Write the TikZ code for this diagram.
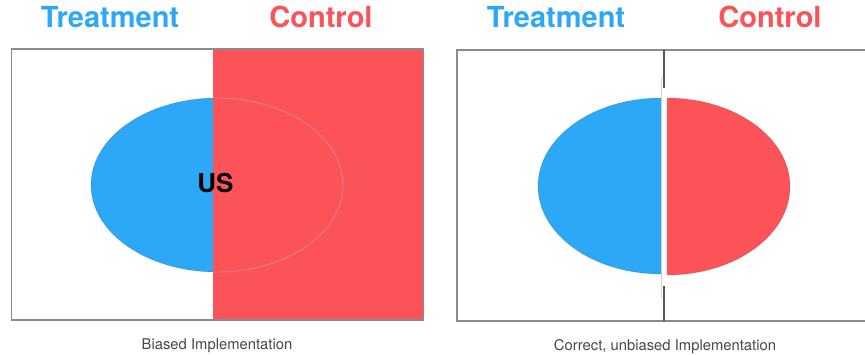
\documentclass[tikz,border=0pt]{standalone}
\usepackage{fontspec}
\setmainfont{TeX Gyre Heros}
\definecolor{tblue}{RGB}{44,168,246}
\definecolor{cred}{RGB}{252,83,89}
\definecolor{framegray}{RGB}{138,138,143}
\definecolor{divgray}{RGB}{85,85,90}
\begin{document}
\begin{tikzpicture}[x=1pt,y=-1pt,
  title/.style={font=\fontsize{29}{30}\selectfont\bfseries, inner sep=0pt, anchor=base},
  caption/.style={font=\fontsize{14.8}{16}\selectfont, text=black!72, inner sep=0pt, anchor=base},
  panel/.style={draw=framegray, line width=1.4pt},
  rim/.style={draw=black, draw opacity=0.14, line width=0.7pt}]
\clip (0,0) rectangle (865,354);
\fill[white] (0,0) rectangle (865,354);

% ---------- left panel: biased implementation ----------
\fill[tblue] (217,185) ellipse [x radius=126, y radius=87];
\draw[rim] (217,185) ellipse [x radius=126, y radius=87];
\fill[cred] (213,49) rectangle (423.5,320);
\begin{scope}
  \clip (213,0) rectangle (430,354);
  \draw[black!30, draw opacity=0.5, line width=0.9pt] (217,185) ellipse [x radius=126, y radius=87];
\end{scope}
\draw[panel] (11.5,49) rectangle (423.5,320);
\node[font=\fontsize{26}{28}\selectfont\bfseries, inner sep=0pt, anchor=base] (us) at (215.5,192) {US};

\node[title, text=tblue] (treatL) at (110,27) {Treatment};
\node[title, text=cred] (ctrlL) at (321,27) {Control};
\node[caption] (capL) at (217,349) {Biased Implementation};

% ---------- right panel: correct, unbiased implementation ----------
\draw[panel] (457,50) rectangle (880,321);
\begin{scope}
  \clip (450,0) rectangle (661,354);
  \fill[tblue] (661,186) ellipse [x radius=123, y radius=88];
  \draw[rim] (661,186) ellipse [x radius=123, y radius=88];
\end{scope}
\begin{scope}
  \clip (667,0) rectangle (870,354);
  \fill[cred] (667,186.5) ellipse [x radius=123, y radius=88.5];
  \draw[rim] (667,186.5) ellipse [x radius=123, y radius=88.5];
\end{scope}
\draw[black!18, line width=0.8pt] (661,77) -- (661,298);
\draw[divgray, line width=1.4pt] (664,50) -- (664,88);
\draw[divgray, line width=1.4pt] (664,286) -- (664,321);

\node[title, text=tblue] (treatR) at (556,27) {Treatment};
\node[title, text=cred] (ctrlR) at (770,27) {Control};
\node[caption] (capR) at (665,350) {Correct, unbiased Implementation};
\end{tikzpicture}
\end{document}
